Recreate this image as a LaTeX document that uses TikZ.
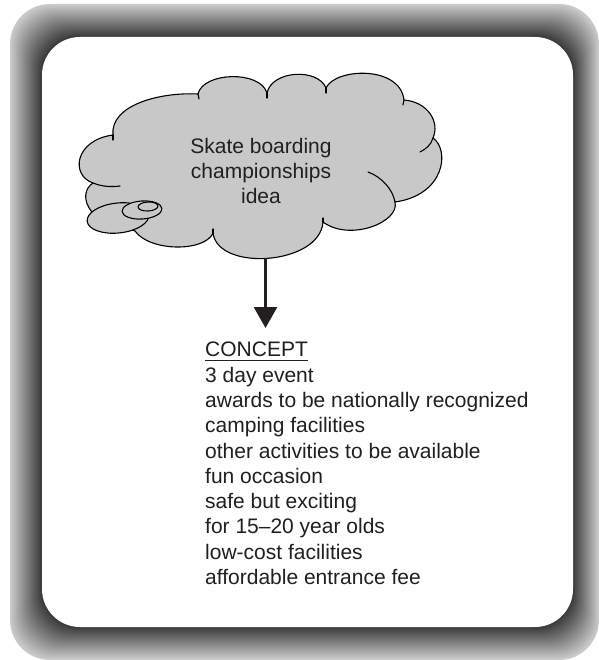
\documentclass[tikz,border=0pt]{standalone}
\usepackage{fontspec}
\setmainfont{Liberation Sans}
\usetikzlibrary{arrows.meta}
\definecolor{inkc}{HTML}{231F20}
\definecolor{cloudgray}{HTML}{C8C8C8}
\begin{document}
\begin{tikzpicture}[x=1pt,y=-1pt,
  cloudline/.style={draw=black, line width=1.1pt, line join=round, line cap=round},
  cloudfill/.style={fill=cloudgray},
  labeltext/.style={text=inkc, font=\fontsize{21}{25.3}\selectfont, inner sep=0pt},
  flowarrow/.style={draw=inkc, line width=2.6pt, -{Triangle[width=23pt,length=21pt]}},
]
\useasboundingbox (0,0) rectangle (598,660);
\fill[white] (0,0) rectangle (598,660);

% shaded frame: nested rounded rectangles, light outside to dark inside
\foreach \i in {0,...,40}{
  \pgfmathsetmacro\t{\i/40}
  \pgfmathsetmacro\xa{10+32*\t}
  \pgfmathsetmacro\ya{4+33*\t}
  \pgfmathsetmacro\xb{599-26*\t}
  \pgfmathsetmacro\yb{660-33*\t}
  \pgfmathsetmacro\rr{40-2*\t}
  \pgfmathsetmacro\k{20+58*\t}
  \fill[black!\k!white, rounded corners=\rr pt] (\xa,\ya) rectangle (\xb,\yb);
}
\fill[white, rounded corners=38pt] (42,37) rectangle (573,627);

% thought cloud outline
\path[cloudline, cloudfill]
  (113,135) .. controls (110,105) and (160,92) .. (198,94)
  .. controls (203,72) and (260,70) .. (267,93)
  .. controls (272,70) and (318,68) .. (326,88)
  .. controls (335,68) and (400,65) .. (404,100)
  .. controls (428,102) and (440,122) .. (433,138)
  .. controls (450,150) and (445,195) .. (395,202)
  .. controls (400,222) and (350,242) .. (323,222)
  .. controls (320,265) and (218,272) .. (213,233)
  .. controls (205,252) and (150,252) .. (135,231)
  -- (92,212)
  .. controls (82,200) and (85,188) .. (93,183)
  .. controls (70,175) and (75,140) .. (113,135) -- cycle;

% inner ends of the overlapping bumps
\draw[cloudline] (113,135) -- (113,140);
\draw[cloudline] (198,94) -- (199,99);
\draw[cloudline] (267,93) -- (267,98);
\draw[cloudline] (326,88) -- (326,93);
\draw[cloudline] (404,100) -- (403,105);
\draw[cloudline] (433,138) .. controls (431,145) and (426,149) .. (420,152);
\draw[cloudline] (368,172) .. controls (382,177) and (393,190) .. (395,202);
\draw[cloudline] (323,222) -- (323,218);
\draw[cloudline] (213,233) -- (213,229);
\draw[cloudline] (93,183) .. controls (103,187) and (112,187) .. (120,186);

% trailing bubbles
\draw[cloudline, cloudfill] (118,218) ellipse [x radius=31pt, y radius=15pt, rotate=6];
\draw[cloudline, cloudfill] (142,210) ellipse [x radius=20pt, y radius=9pt, rotate=4];
\draw[cloudline] (148,206.5) ellipse [x radius=10pt, y radius=4.5pt, rotate=3];

\node[labeltext, align=center] (idea) at (261,171) {Skate boarding\\championships\\idea};

\coordinate (cloud-bottom) at (265.5,258);
\coordinate (arrow-tip) at (265.5,328);
\draw[flowarrow] (cloud-bottom) -- (arrow-tip);

\node[labeltext, align=left, anchor=north west] (concept) at (205,342)
  {{\setbox0\hbox{CONCEPT}\rlap{\rule[-4pt]{\wd0}{1.3pt}}\box0}\\
   3 day event\\
   awards to be nationally recognized\\
   camping facilities\\
   other activities to be available\\
   fun occasion\\
   safe but exciting\\
   for 15–20 year olds\\
   low-cost facilities\\
   affordable entrance fee};
\end{tikzpicture}
\end{document}
